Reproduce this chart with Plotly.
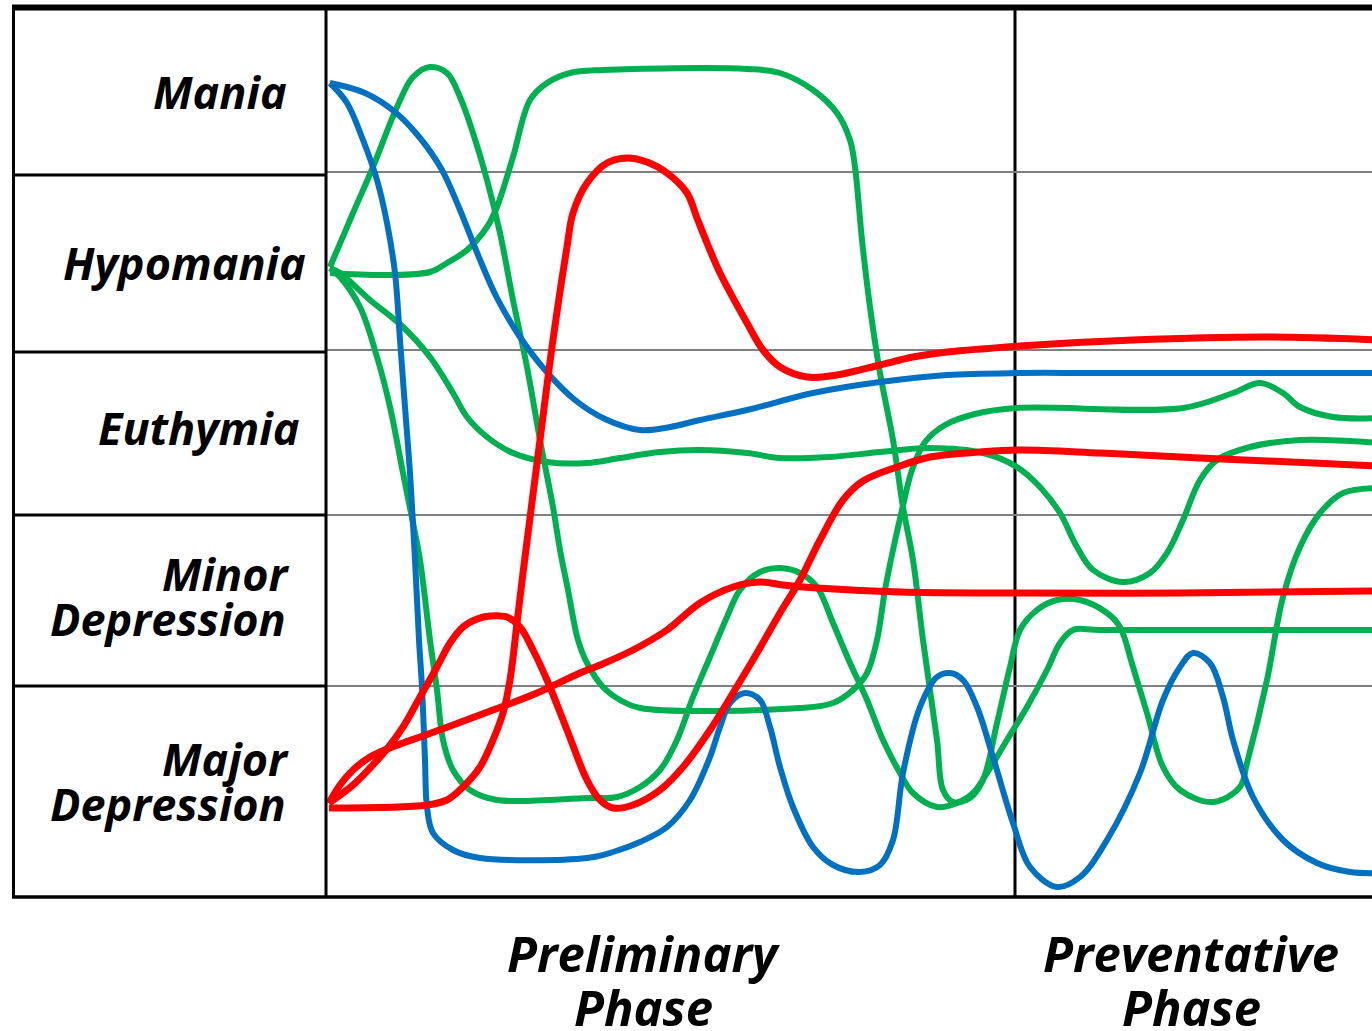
import plotly.graph_objects as go

# ---- category / label text ----
mood_states = ["Mania", "Hypomania", "Euthymia", "Minor Depression", "Major Depression"]
phase_labels = ["Preliminary Phase", "Preventative Phase"]

# mood-band boundaries on the mood scale (0 = bottom, 88.9 = top)
band_edges = [21.1, 38.2, 54.7, 72.5]
phase_boundary = 68.8   # time at which the preventative phase starts
phase_centers = [31.6, 86.4]

# ---- series: time (x) and mood level (y) ----
blue_a_t = [0.3, 2.0, 3.6, 5.0, 6.0, 6.8, 7.3, 7.8, 8.3, 8.8, 9.2, 9.5, 9.8, 10.0, 10.6, 12.6, 15.3, 26.0,
            28.6, 31.3, 34.0, 36.3, 38.3, 39.3, 40.3, 41.8, 43.3, 44.3, 45.3, 46.6, 48.6, 50.6, 53.3, 55.3,
            56.6, 57.6, 59.3, 61.0, 62.3, 63.6, 65.0, 66.6, 68.6, 70.3, 73.0, 75.3, 78.0, 81.3, 83.6, 85.3,
            86.6, 88.3, 89.6, 90.6, 92.6, 95.6, 99.0, 102.3, 105.3]
blue_a_m = [81.4, 79.4, 75.7, 71.7, 67.4, 62.4, 55.7, 49.0, 42.4, 33.7, 25.7, 21.0, 13.7, 9.0, 6.4, 4.7, 3.9, 3.9,
            4.5, 5.5, 7.0, 9.7, 14.0, 17.0, 19.4, 20.4, 19.7, 17.0, 13.0, 9.0, 5.0, 3.2, 2.5, 3.2,
            5.7, 12.4, 19.0, 22.0, 22.4, 21.7, 19.0, 14.0, 7.4, 3.0, 1.0, 2.0, 5.7, 12.4, 19.7, 23.0,
            24.4, 23.4, 20.0, 15.7, 10.0, 5.7, 3.4, 2.5, 2.4]

blue_b_t = [0.3, 3.8, 6.8, 9.3, 11.5, 13.3, 15.1, 17.0, 19.3, 21.8, 24.8, 27.8, 31.3, 34.3, 37.3, 42.0,
            48.6, 55.3, 62.0, 69.3, 77.0, 105.3]
blue_b_m = [81.4, 80.4, 78.5, 75.9, 72.7, 68.7, 64.2, 59.9, 56.0, 52.7, 49.7, 47.8, 46.7, 47.0, 47.7, 48.7,
            50.4, 51.5, 52.2, 52.4, 52.4, 52.4]

green_1_t = [0.3, 2.6, 4.6, 7.0, 8.6, 10.3, 12.0, 13.3, 14.6, 16.0, 17.3, 18.6, 20.0, 21.3, 22.6, 23.3, 24.1,
             25.1, 26.0, 27.6, 29.3, 31.3, 47.3, 50.6, 52.6, 54.0, 55.0, 55.8, 56.6, 57.5, 58.5, 59.8, 61.8,
             64.8, 69.0, 85.6, 90.6, 93.3, 95.6, 97.3, 100.6, 105.3]
green_1_m = [63.0, 68.4, 73.0, 79.0, 82.0, 83.0, 82.4, 80.0, 76.4, 71.7, 66.4, 59.7, 53.0, 45.7, 39.0, 34.7, 30.7,
             25.7, 23.4, 21.0, 19.7, 18.9, 18.9, 19.4, 20.7, 22.4, 25.7, 30.7, 34.7, 38.7, 42.7, 45.5, 47.2,
             48.3, 48.9, 48.9, 50.4, 51.4, 50.4, 49.0, 48.0, 47.9]

green_2_t = [0.3, 1.3, 3.3, 5.0, 6.3, 7.6, 8.6, 9.3, 10.3, 11.0, 11.6, 12.6, 14.3, 17.0, 26.0, 29.0, 31.3, 33.3,
             35.0, 36.6, 38.3, 40.0, 41.3, 43.3, 45.3, 47.3, 49.0, 50.6, 52.3, 54.0, 55.6, 57.3, 58.6, 61.0,
             63.0, 64.6, 66.0, 68.0, 70.0, 72.0, 73.3, 74.6, 77.3, 105.3]
green_2_m = [62.9, 62.0, 59.0, 54.0, 49.0, 42.4, 37.4, 33.7, 25.7, 20.7, 15.7, 12.7, 10.7, 9.7, 9.9, 10.0, 11.0, 12.7,
             15.7, 20.0, 24.0, 28.0, 30.7, 32.5, 32.9, 32.4, 31.0, 27.4, 23.4, 19.7, 15.7, 12.4, 10.4, 9.0,
             9.4, 10.4, 12.4, 15.7, 19.0, 22.7, 25.4, 26.7, 26.7, 26.7]

green_3_t = [0.3, 6.0, 10.3, 12.0, 14.0, 16.0, 17.0, 18.6, 20.3, 22.0, 24.3, 27.6, 42.0, 45.3, 48.6, 51.0, 52.3,
             52.8, 53.5, 54.3, 55.3, 56.6, 57.6, 58.6, 59.6, 61.0, 61.6, 62.6, 64.3, 65.6, 67.0, 68.3, 69.3,
             71.0, 73.0, 75.3, 78.0, 79.3, 80.6, 82.0, 83.6, 85.3, 88.6, 91.3, 92.0, 94.0, 95.6, 97.3, 99.3,
             101.6, 105.3]
green_3_m = [62.4, 62.2, 62.5, 63.4, 64.7, 67.0, 69.0, 74.0, 79.7, 81.4, 82.4, 82.7, 82.8, 82.4, 80.7, 78.4, 75.7,
             73.0, 65.7, 59.0, 52.4, 45.7, 39.0, 33.7, 25.7, 15.7, 10.7, 9.5, 9.9, 11.7, 17.4, 23.0, 26.7,
             28.7, 29.7, 29.7, 28.4, 27.0, 23.0, 18.4, 13.0, 10.7, 9.5, 11.0, 13.4, 21.7, 30.0, 35.0, 38.4,
             40.4, 40.9]

green_5_t = [0.3, 1.3, 4.3, 7.6, 10.3, 12.6, 14.0, 16.0, 18.6, 22.0, 26.0, 29.3, 33.3, 37.3, 42.0, 45.3, 50.3,
             55.3, 60.3, 65.6, 69.0, 71.3, 73.3, 75.0, 76.6, 79.6, 82.3, 84.0, 85.6, 87.3, 89.0, 92.3, 97.3,
             105.3]
green_5_m = [62.9, 62.4, 59.7, 57.0, 54.0, 50.4, 48.0, 46.0, 44.4, 43.5, 43.4, 43.9, 44.5, 44.7, 44.4, 43.9, 44.0,
             44.5, 44.9, 44.4, 43.0, 41.0, 38.4, 35.0, 32.7, 31.5, 32.4, 34.4, 37.7, 41.7, 43.7, 45.0, 45.7,
             45.4]

red_1_t = [0.2, 10.0, 12.0, 13.6, 15.3, 16.6, 17.6, 18.3, 19.0, 19.6, 21.3, 22.6, 24.0, 24.6, 26.0, 28.0,
           30.0, 32.0, 34.0, 36.0, 37.0, 38.0, 39.3, 42.0, 43.6, 45.3, 48.0, 51.0, 55.3, 58.6, 62.0, 69.3,
           80.6, 94.0, 105.3]
red_1_m = [8.9, 9.2, 9.7, 11.0, 13.0, 15.7, 18.4, 21.7, 27.4, 32.4, 45.7, 55.7, 65.0, 68.4, 71.4, 73.4,
           73.9, 73.5, 72.4, 70.4, 67.9, 65.4, 62.4, 57.4, 54.7, 53.0, 52.0, 52.2, 53.2, 54.0, 54.5, 55.1,
           55.7, 56.0, 55.7]

red_2_t = [0.2, 2.6, 4.3, 6.0, 7.6, 9.3, 11.0, 12.3, 13.6, 15.0, 16.3, 18.0, 19.3, 20.6, 22.0, 24.0, 26.0,
           27.3, 28.6, 30.6, 33.3, 35.6, 38.3, 40.6, 43.0, 45.3, 47.3, 49.3, 51.6, 53.6, 57.0, 60.3, 65.3,
           69.3, 77.3, 87.3, 105.3]
red_2_m = [9.4, 11.2, 12.9, 14.8, 17.0, 20.0, 23.0, 25.4, 27.0, 27.8, 28.1, 28.0, 27.0, 24.7, 21.7, 16.7, 11.7,
           9.7, 8.9, 9.2, 10.7, 13.0, 16.7, 20.4, 24.4, 28.4, 31.7, 35.7, 39.7, 41.6, 43.0, 44.0, 44.5,
           44.7, 44.4, 43.9, 43.1]

red_3_t = [0.2, 1.3, 2.6, 4.3, 6.0, 7.6, 9.3, 12.6, 16.6, 21.0, 25.3, 27.3, 30.6, 34.0, 37.3, 40.6, 43.3,
           45.6, 49.0, 57.3, 67.3, 85.3, 105.3]
red_3_m = [9.4, 11.2, 12.7, 14.0, 14.8, 15.4, 16.0, 17.2, 18.7, 20.4, 22.4, 23.2, 24.7, 26.7, 29.4, 31.0, 31.5,
           31.2, 30.9, 30.5, 30.4, 30.4, 30.6]

GREEN = "#00B050"
BLUE = "#0070C0"
RED = "#FF0000"

W, H = 1372, 1031

fig = go.Figure()


def add_curve(t, m, color, width):
    fig.add_trace(go.Scatter(x=t, y=m, mode="lines",
                             line=dict(color=color, width=width, shape="spline", smoothing=1.0),
                             hoverinfo="skip", showlegend=False))


for t, m in [(green_1_t, green_1_m), (green_2_t, green_2_m), (green_3_t, green_3_m), (green_5_t, green_5_m)]:
    add_curve(t, m, GREEN, 6)
for t, m in [(blue_a_t, blue_a_m), (blue_b_t, blue_b_m)]:
    add_curve(t, m, BLUE, 6)
for t, m in [(red_1_t, red_1_m), (red_2_t, red_2_m), (red_3_t, red_3_m)]:
    add_curve(t, m, RED, 7)


def px(xp):
    return xp / W


def py(yp):
    return 1 - yp / H


shapes = []
blk = dict(color="black", width=3)
# table / frame
shapes.append(dict(type="line", xref="paper", yref="paper", x0=px(12), x1=1, y0=py(7.5), y1=py(7.5),
                   line=dict(color="black", width=6)))
shapes.append(dict(type="line", xref="paper", yref="paper", x0=px(12), x1=1, y0=py(897), y1=py(897),
                   line=dict(color="black", width=3.5)))
shapes.append(dict(type="line", xref="paper", yref="paper", x0=px(13.5), x1=px(13.5), y0=py(5), y1=py(898),
                   line=blk))
shapes.append(dict(type="line", xref="paper", yref="paper", x0=px(326), x1=px(326), y0=py(5), y1=py(898),
                   line=blk))
for yp in [175, 352, 515, 686]:
    shapes.append(dict(type="line", xref="paper", yref="paper", x0=px(12), x1=px(326), y0=py(yp), y1=py(yp),
                       line=blk))
# phase boundary
shapes.append(dict(type="line", xref="x", yref="paper", x0=phase_boundary, x1=phase_boundary,
                   y0=py(897), y1=py(5), line=blk, layer="between"))

fig.update_layout(shapes=shapes)

lab_font = dict(family="Open Sans", size=45, color="black", weight="bold", style="italic")
label_lines = [
    ("Mania", 288, 91.5), ("Hypomania", 307, 262), ("Euthymia", 300, 427.5),
    ("Minor", 290, 573), ("Depression", 287, 618),
    ("Major", 290, 758), ("Depression", 287, 803.5),
]
ann = []
for txt, xr, yc in label_lines:
    ann.append(dict(text=txt, xref="paper", yref="paper", x=px(xr), y=py(yc), xanchor="right",
                    yanchor="middle", showarrow=False, font=lab_font, borderpad=0))

ph_font = dict(family="Open Sans", size=49, color="black", weight="bold", style="italic")
for label, xc in zip(phase_labels, phase_centers):
    first, second = label.split(" ")
    ann.append(dict(text=first, xref="x", yref="paper", x=xc, y=py(953), xanchor="center",
                    yanchor="middle", showarrow=False, font=ph_font, borderpad=0))
    ann.append(dict(text=second, xref="x", yref="paper", x=xc, y=py(1007), xanchor="center",
                    yanchor="middle", showarrow=False, font=ph_font, borderpad=0))

fig.update_layout(
    annotations=ann,
    width=W, height=H,
    margin=dict(l=0, r=0, t=0, b=0),
    paper_bgcolor="white", plot_bgcolor="white",
    xaxis=dict(domain=[327 / W, 1], range=[0, 104.5], showgrid=False, zeroline=False,
               showticklabels=False, showline=False, ticks="", fixedrange=True),
    yaxis=dict(domain=[py(897), py(8)], range=[0, 88.9], tickvals=band_edges, showgrid=True,
               gridcolor="#808080", gridwidth=2, zeroline=False, showticklabels=False,
               showline=False, ticks="", fixedrange=True),
)

fig.write_html("out.html", config={"displayModeBar": False},
               post_script="document.body.style.margin='0';document.body.style.overflow='hidden';")
